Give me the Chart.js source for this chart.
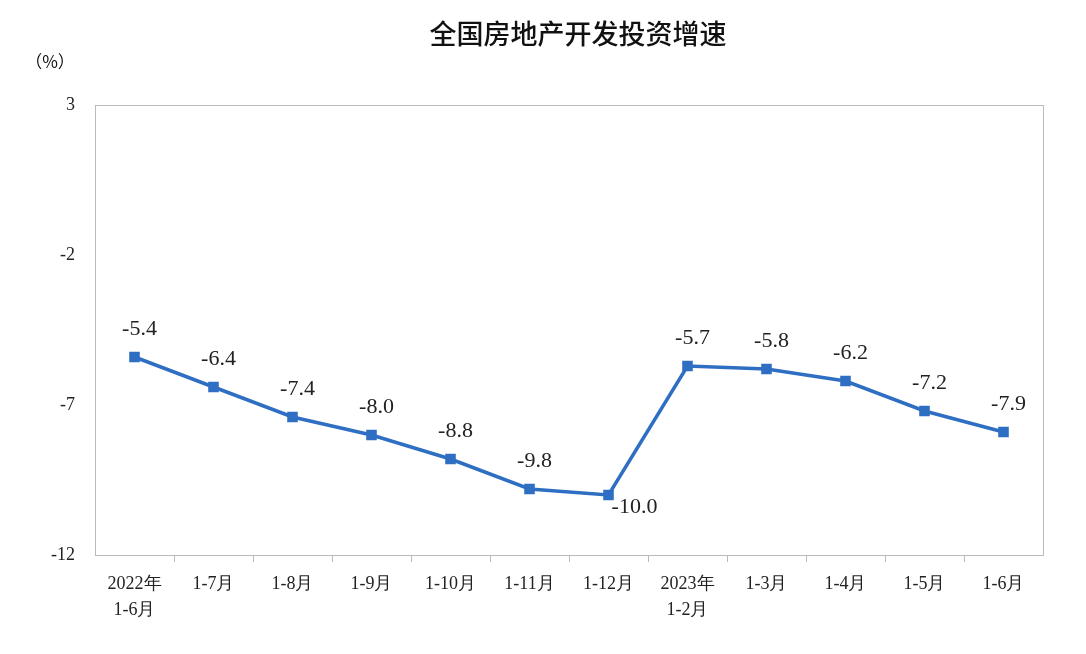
<!DOCTYPE html>
<html><head><meta charset="utf-8">
<script src="https://cdn.jsdelivr.net/npm/chart.js@4/dist/chart.umd.min.js"></script>
<style>html,body{margin:0;padding:0;background:#fff}#w{width:1086px;height:654px}</style>
</head><body><div id="w"><canvas id="c"></canvas></div>
<script>
const categories=[["2022年","1-6月"],"1-7月","1-8月","1-9月","1-10月","1-11月","1-12月",["2023年","1-2月"],"1-3月","1-4月","1-5月","1-6月"];
const growth=[-5.4,-6.4,-7.4,-8.0,-8.8,-9.8,-10.0,-5.7,-5.8,-6.2,-7.2,-7.9];
const yTicks=[3,-2,-7,-12];
const titleText="全国房地产开发投资增速";
const unitText="（%）";
const serif="'Liberation Serif','DejaVu Serif',serif";
const deco={id:'deco',afterDraw(ch){
  const ctx=ch.ctx,a=ch.chartArea;
  ctx.save();
  ctx.fillStyle='#111';ctx.textAlign='center';ctx.textBaseline='middle';
  ctx.font="500 27px 'Noto Sans CJK SC'";ctx.fillText(titleText,578,34);
  ctx.font="17px 'Noto Sans CJK SC'";ctx.fillText(unitText,50,62);
  ctx.strokeStyle='#bbb';ctx.lineWidth=1;ctx.strokeRect(a.left+0.5,a.top+0.5,a.right-a.left,a.bottom-a.top);
  const xs=ch.scales.x;
  ctx.beginPath();
  for(let i=1;i<categories.length;i++){const x=Math.round((xs.getPixelForValue(i-1)+xs.getPixelForValue(i))/2)+0.5;ctx.moveTo(x,a.bottom);ctx.lineTo(x,a.bottom+7);}
  ctx.stroke();
  const meta=ch.getDatasetMeta(0);
  ctx.font="22px "+serif;ctx.fillStyle='#222';
  meta.data.forEach((p,i)=>{
    const t=growth[i].toFixed(1);
    if(i===6){ctx.fillText(t,p.x+26,p.y+12);}
    else ctx.fillText(t,p.x+5,p.y-28);
  });
  ctx.restore();
}};
new Chart(document.getElementById('c'),{
  type:'line',
  data:{labels:categories,datasets:[{data:growth,borderColor:'#2f6fc3',backgroundColor:'#2f6fc3',borderWidth:3.5,pointStyle:'rect',pointRadius:5,tension:0}]},
  options:{responsive:true,maintainAspectRatio:false,animation:false,devicePixelRatio:1,
    layout:{padding:{top:105,right:43,left:0,bottom:0}},
    plugins:{legend:{display:false},tooltip:{enabled:false}},
    scales:{
      x:{offset:true,grid:{display:false,drawTicks:false},border:{display:false},
        ticks:{color:'#222',font:{size:18,family:serif,lineHeight:1.4},maxRotation:0,autoSkip:false,padding:17},
        afterFit(s){s.height=99;}},
      y:{min:-12,max:3,grid:{display:false},border:{display:false},
        afterBuildTicks(s){s.ticks=yTicks.map(v=>({value:v}));},
        ticks:{color:'#222',font:{size:18,family:serif},padding:12},
        afterFit(s){s.width=95;}}
    }},
  plugins:[deco]
});
</script></body></html>
